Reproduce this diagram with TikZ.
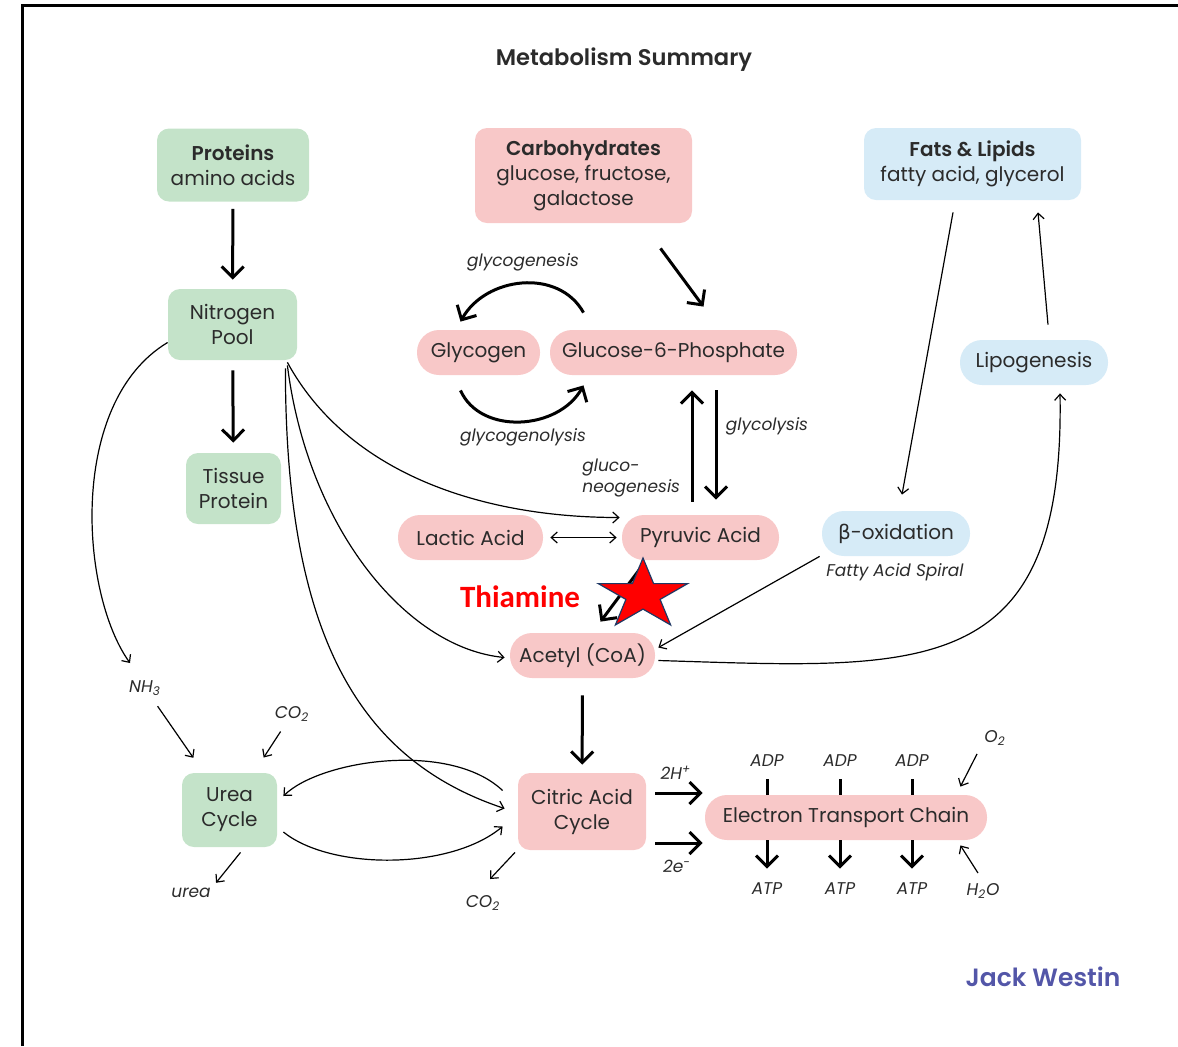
\documentclass[tikz,border=0pt]{standalone}
\usepackage{fontspec}
\setsansfont{Poppins}[BoldFont={Poppins SemiBold}]
\newfontfamily\thiafont{Carlito}
\newfontfamily\greekfont{DejaVu Sans}
\usetikzlibrary{arrows.meta}
\definecolor{palGreen}{HTML}{C4E3C9}
\definecolor{palPink}{HTML}{F8C8C8}
\definecolor{palBlue}{HTML}{D6EBF7}
\definecolor{palText}{HTML}{2B2B2B}
\definecolor{palRed}{HTML}{FF0000}
\definecolor{palNavy}{HTML}{1F3864}
\definecolor{palBrand}{HTML}{5356A8}

\begin{document}
\begin{tikzpicture}[x=0.5pt, y=-0.5pt,
  font=\sffamily\fontsize{10}{12.5}\selectfont,
  box/.style={rounded corners=6pt, align=center, inner sep=2pt, text=palText},
  greenbox/.style={box, fill=palGreen},
  pinkbox/.style={box, fill=palPink},
  bluebox/.style={box, fill=palBlue},
  pill/.style={box, rounded corners=11pt, minimum height=22.5pt},
  pinkpill/.style={pill, fill=palPink},
  bluepill/.style={pill, fill=palBlue},
  lbl/.style={font=\sffamily\itshape\fontsize{8.5}{10.5}\selectfont, text=palText, inner sep=1pt, align=left},
  arrow/.style={-{Straight Barb[length=5.5pt,width=11pt]}, line width=1.5pt},
  fine/.style={-{Straight Barb[length=3pt,width=5.5pt]}, line width=0.6pt},
  fineboth/.style={{Straight Barb[length=3pt,width=5.5pt]}-{Straight Barb[length=3pt,width=5.5pt]}, line width=0.6pt},
]
\useasboundingbox (0,0) rectangle (1178,1046);
\draw[line width=1.5pt] (22,1046) -- (22,5) -- (1178,5);

\node[font=\sffamily\bfseries\fontsize{11.3}{13}\selectfont, text=palText] (title) at (624,60) {Metabolism Summary};

\node[greenbox, minimum width=76pt, minimum height=36.5pt] (prot) at (233,165) {\textbf{Proteins}\\amino acids};
\node[pinkbox, minimum width=108.5pt, minimum height=47.5pt] (carb) at (583.5,175.5) {\textbf{Carbohydrates}\\glucose, fructose,\\galactose};
\node[bluebox, minimum width=108.5pt, minimum height=36pt] (fats) at (972.5,164) {\textbf{Fats \& Lipids}\\fatty acid, glycerol};
\node[greenbox, minimum width=64.5pt, minimum height=35.5pt] (nitro) at (232.5,324.5) {Nitrogen\\Pool};
\node[greenbox, minimum width=47.5pt, minimum height=35.5pt] (tissue) at (233.5,488.5) {Tissue\\Protein};
\node[pinkpill, minimum width=61.5pt] (glycogen) at (478.5,352.5) {Glycogen};
\node[pinkpill, minimum width=123.5pt] (g6p) at (673.5,352.5) {Glucose-6-Phosphate};
\node[bluepill, minimum width=74pt] (lipo) at (1034,362.5) {Lipogenesis};
\node[pinkpill, minimum width=72.5pt] (lactic) at (470.5,537.5) {Lactic Acid};
\node[pinkpill, minimum width=78.5pt] (pyr) at (700.5,537.5) {Pyruvic Acid};
\node[bluepill, minimum width=74pt] (boxid) at (896,533.5) {{\greekfont β}-oxidation};
\node[pinkpill, minimum width=72.5pt] (acetyl) at (582.5,655.5) {Acetyl (CoA)};
\node[pinkbox, minimum width=64pt, minimum height=38.5pt] (citric) at (582,811.5) {Citric Acid\\Cycle};
\node[greenbox, minimum width=47.5pt, minimum height=37pt] (urea) at (229.5,810) {Urea\\Cycle};
\node[pinkpill, minimum width=141pt] (etc) at (846,817.5) {Electron Transport Chain};

\node[lbl] (genesis) at (523,262) {glycogenesis};
\node[lbl] (lysis) at (523,437) {glycogenolysis};
\node[lbl] (glycolysis) at (767,426) {glycolysis};
\node[lbl, anchor=west] (gluconeo) at (580,478) {gluco-\\neogenesis};
\node[lbl] (spiral) at (895,572) {Fatty Acid Spiral};
\node[lbl] (nh3) at (145,688) {NH\textsubscript{3}};
\node[lbl] (co2u) at (292,714) {CO\textsubscript{2}};
\node[lbl] (urealbl) at (191,893) {urea};
\node[lbl] (co2c) at (483,903) {CO\textsubscript{2}};
\node[lbl] (hplus) at (676,773) {2H\textsuperscript{+}};
\node[lbl] (elec) at (677,866) {2e\textsuperscript{-}};
\node[lbl] (o2) at (995,738) {O\textsubscript{2}};
\node[lbl] (h2o) at (983,891) {H\textsubscript{2}O};
\node[font=\thiafont\bfseries\fontsize{15.5}{18}\selectfont, text=palRed] (thia) at (520,597) {Thiamine};
\node[font=\sffamily\bfseries\fontsize{12.5}{15}\selectfont, text=palBrand] (brand) at (1043,977) {Jack Westin};

\draw[arrow, shorten <=3.5pt, shorten >=4.5pt] (prot) -- (nitro);
\draw[arrow, shorten <=5pt, shorten >=5pt] (nitro) -- (tissue);
\draw[arrow] ([shift={(77,25)}]carb.south) -- ([shift={(30,-23)}]g6p.north);
\draw[arrow] ([shift={(-90,-17)}]g6p.north) .. controls +(-25,-45) and +(25,-45) .. ([shift={(-18,-8)}]glycogen.north);
\draw[arrow] ([shift={(-18,15)}]glycogen.south) .. controls +(20,45) and +(-25,45) .. ([shift={(-90,10)}]g6p.south);
\draw[arrow] ([shift={(-8.5,-13)}]pyr.north) -- ([shift={(18.5,15)}]g6p.south);
\draw[arrow] ([shift={(42.5,15)}]g6p.south) -- ([shift={(15.5,-15)}]pyr.north);
\draw[fineboth, shorten <=3.5pt, shorten >=2.5pt] (lactic) -- (pyr);

\draw[fine] ([shift={(-10,2)}]nitro.south east) .. controls +(60,110) and +(-140,0) .. ([shift={(-2,-20)}]pyr.west);
\draw[fine] ([shift={(-10,5)}]nitro.south east) .. controls +(20,160) and +(-100,-10) .. ([shift={(-5,2)}]acetyl.west);
\draw[fine] ([shift={(-12,8)}]nitro.south east) .. controls +(0,260) and +(-150,-50) .. ([shift={(-13,-3)}]citric.west);
\draw[fine] ([shift={(0,18)}]nitro.west) .. controls +(-100,60) and +(-50,-70) .. ([shift={(-15,-15)}]nh3.north);
\draw[fine, shorten <=5pt, shorten >=9pt] (nh3) -- (urea);
\draw[fine, shorten <=4.5pt, shorten >=9pt] (co2u) -- (urea);
\draw[fine] ([shift={(11,5)}]urea.south) -- ([shift={(3,-3)}]urealbl.north east);
\draw[fine] ([shift={(-15,-21)}]citric.west) .. controls +(-53,-50) and +(37,-36) .. ([shift={(6,-14)}]urea.east);
\draw[fine] ([shift={(6,22)}]urea.east) .. controls +(47,38) and +(-53,44) .. ([shift={(-15,15)}]citric.west);
\draw[fine] ([shift={(-67,2)}]citric.south) -- ([shift={(7,-14)}]co2c.north);

\draw[arrow] ([shift={(-58,5)}]pyr.south) -- ([shift={(18,-11)}]acetyl.north);
\filldraw[fill=palRed, draw=palNavy, line width=0.6pt] (643,558) -- (653.6,583.6) -- (687.7,583.6) -- (660.1,599.4) -- (670.6,624.9) -- (643,609.1) -- (615.4,624.9) -- (625.9,599.4) -- (598.3,583.6) -- (632.4,583.6) -- cycle;

\draw[fine] ([shift={(-19.5,12)}]fats.south) -- ([shift={(6,-16)}]boxid.north);
\draw[fine] ([shift={(14,-15)}]lipo.north) -- ([shift={(65.5,12)}]fats.south);
\draw[fine] ([shift={(-2,0)}]boxid.south west) -- ([shift={(3,-8)}]acetyl.east);
\draw[fine] ([shift={(3,5)}]acetyl.east) .. controls +(262,8) and +(5,290) .. ([shift={(26,8)}]lipo.south);

\draw[arrow, shorten <=8.5pt, shorten >=4pt] (acetyl) -- (citric);
\coordinate (hup) at ([shift={(9,-18.5)}]citric.east);
\coordinate (hdn) at ([shift={(9,31.5)}]citric.east);
\draw[arrow, shorten >=1pt] (hup) -- (hup -| etc.west);
\draw[arrow, shorten >=1pt] (hdn) -- (hdn -| etc.west);
\foreach \x [count=\i] in {767,840,912} {
  \node[lbl] (adp\i) at (\x,761) {ADP};
  \node[lbl] (atp\i) at (\x,889) {ATP};
  \draw[line width=1.5pt, shorten <=5pt] (adp\i) -- (adp\i |- etc.north);
  \draw[arrow, shorten >=6pt] (atp\i |- etc.south) -- (atp\i);
}
\draw[fine] ([shift={(-5,6)}]o2.south west) -- ([shift={(-27,-8)}]etc.north east);
\draw[fine] ([shift={(-5,-8)}]h2o.north) -- ([shift={(-27,5)}]etc.south east);
\end{tikzpicture}
\end{document}
